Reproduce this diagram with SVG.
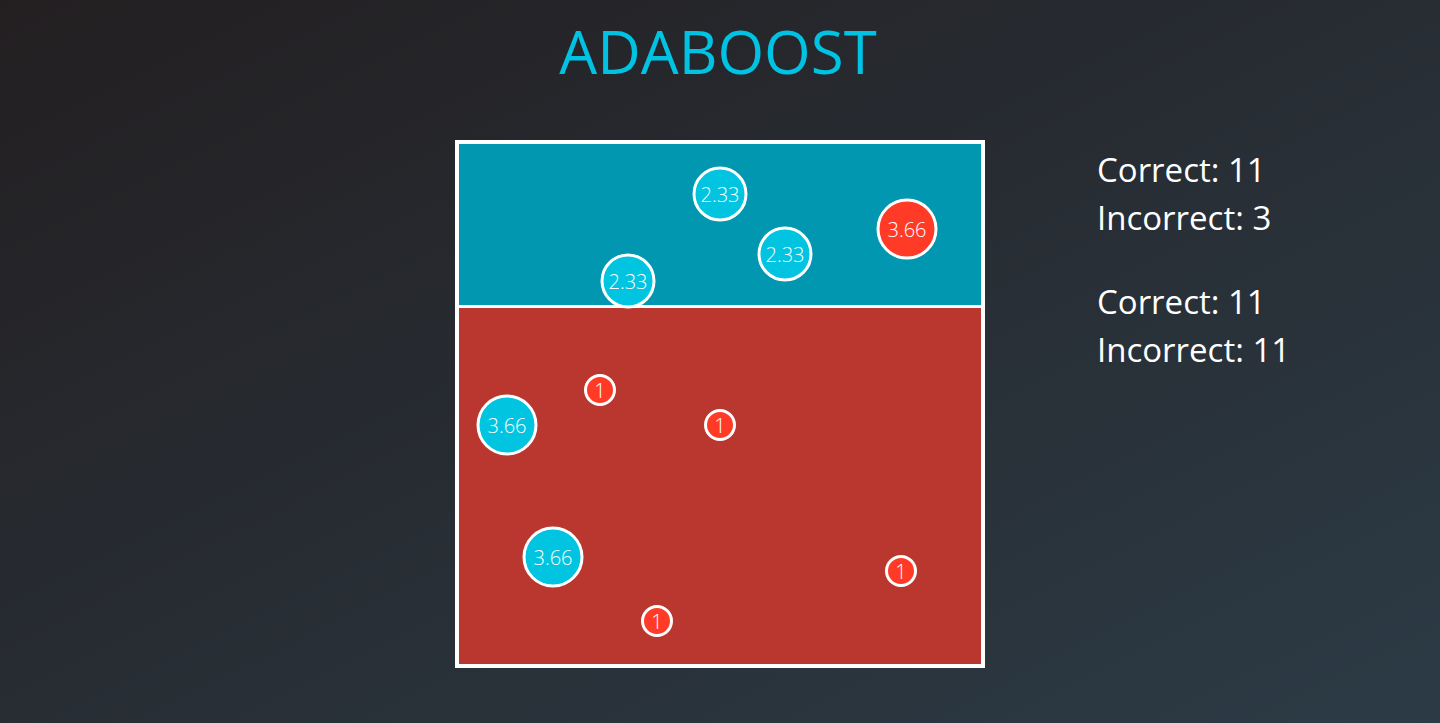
<svg xmlns="http://www.w3.org/2000/svg" width="1440" height="723" viewBox="0 0 1440 723">
<defs>
<linearGradient id="bg" x1="0" y1="0" x2="1" y2="1" gradientUnits="objectBoundingBox">
<stop offset="0" stop-color="#231f21"/>
<stop offset="1" stop-color="#2c3b46"/>
</linearGradient>
<style>
.t{font-family:"Open Sans","Noto Sans",sans-serif;fill:#fff}
.c{stroke:#fff;stroke-width:3}
.b{fill:#00c4e0}
.r{fill:#ff3b27}
.n{font-family:"Open Sans","Noto Sans",sans-serif;fill:#fff;text-anchor:middle;dominant-baseline:central;font-weight:300}
</style>
</defs>
<rect width="1440" height="723" fill="url(#bg)"/>
<text x="718" y="74" font-size="60" text-anchor="middle" font-family="Open Sans, Noto Sans, sans-serif" fill="#00c2e2">ADABOOST</text>
<g id="board">
<rect x="457" y="142" width="526" height="164" fill="#0197b0"/>
<rect x="457" y="306" width="526" height="360" fill="#b9372f"/>
<line x1="457" y1="306.5" x2="983" y2="306.5" stroke="#fff" stroke-width="3"/>
<rect x="457" y="142" width="526" height="524" fill="none" stroke="#fff" stroke-width="4"/>
</g>
<g id="p1"><circle class="c b" cx="720" cy="194" r="26"/><text class="n" x="720" y="194" font-size="20">2.33</text></g>
<g id="p2"><circle class="c b" cx="785" cy="254" r="26"/><text class="n" x="785" y="254" font-size="20">2.33</text></g>
<g id="p3"><circle class="c b" cx="628" cy="281" r="26"/><text class="n" x="628" y="281" font-size="20">2.33</text></g>
<g id="p4"><circle class="c r" cx="907" cy="229" r="29"/><text class="n" x="907" y="229" font-size="20">3.66</text></g>
<g id="p5"><circle class="c b" cx="507" cy="425" r="29"/><text class="n" x="507" y="425" font-size="20">3.66</text></g>
<g id="p6"><circle class="c b" cx="553" cy="557" r="29"/><text class="n" x="553" y="557" font-size="20">3.66</text></g>
<g id="p7"><circle class="c r" cx="600" cy="390" r="14.5"/><text class="n" x="600" y="390" font-size="20">1</text></g>
<g id="p8"><circle class="c r" cx="720" cy="425" r="14.5"/><text class="n" x="720" y="425" font-size="20">1</text></g>
<g id="p9"><circle class="c r" cx="901" cy="571" r="14.5"/><text class="n" x="901" y="571" font-size="20">1</text></g>
<g id="p10"><circle class="c r" cx="657" cy="621" r="14.5"/><text class="n" x="657" y="621" font-size="20">1</text></g>
<g id="stats" class="t" font-size="33">
<text class="t" x="1097" y="182">Correct: 11</text>
<text class="t" x="1097" y="230">Incorrect: 3</text>
<text class="t" x="1097" y="314">Correct: 11</text>
<text class="t" x="1097" y="362">Incorrect: 11</text>
</g>
</svg>
